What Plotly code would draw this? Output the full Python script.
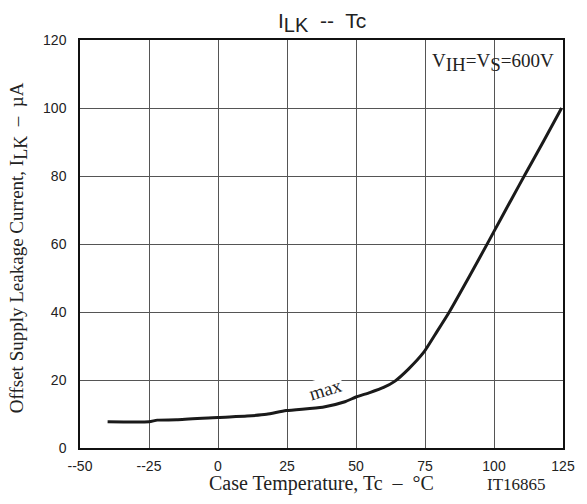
import plotly.graph_objects as go

# Data
temp_c = [-40, -25, -22, -15, 0, 10.5, 17.6, 24.7, 37.9, 46, 50, 55, 60, 64, 69,
          74.5, 79, 83.8, 91.1, 98.2, 102.4, 106.5, 111.3, 118, 124.5]
ilk_max = [7.7, 7.7, 8.2, 8.3, 9.0, 9.4, 9.9, 11.0, 12.0, 13.6, 15.0, 16.3, 17.8, 19.6, 23.2,
           28.1, 33.8, 40.0, 50.5, 61.0, 67.3, 73.4, 80.5, 90.3, 100]

x_ticks = [-50, -25, 0, 25, 50, 75, 100, 125]
x_tick_labels = ["--50", "--25", "0", "25", "50", "75", "100", "125"]
y_ticks = [0, 20, 40, 60, 80, 100, 120]

SANS = "Liberation Sans, Arial, sans-serif"
SERIF = "Liberation Serif, Times New Roman, serif"
TXT = "#222222"

fig = go.Figure()
fig.add_trace(go.Scatter(
    x=temp_c, y=ilk_max, mode="lines",
    line=dict(color="#1a1a1a", width=3, shape="spline", smoothing=0.6),
    showlegend=False, hoverinfo="skip"))

axis_common = dict(showgrid=True, gridcolor="#555555", gridwidth=1,
                   zeroline=False, showline=True, linecolor="#111111", linewidth=1.5,
                   mirror=True, ticks="outside", tickcolor="rgba(0,0,0,0)",
                   tickfont=dict(family=SANS, size=14, color=TXT))

fig.update_xaxes(range=[-50, 125], tickvals=x_ticks, ticktext=x_tick_labels,
                 ticklen=4, **axis_common)
fig.update_yaxes(range=[0, 120], tickvals=y_ticks, ticklen=9, **axis_common)


def sub(s, size):
    return "<sub><span style='font-size:%dpx'>%s</span></sub>" % (size, s)


annotations = [
    dict(text="I" + sub("LK", 20) + "  --  Tc", xref="paper", yref="paper", x=0.5, y=1.0,
         yshift=2, xanchor="center", yanchor="bottom", showarrow=False,
         font=dict(family=SANS, size=21, color=TXT)),
    dict(text="I" + sub("LK", 20) + "  --  Tc", xref="paper", yref="paper", x=0.5, y=-0.12,
         xanchor="center", yanchor="top", showarrow=False,
         font=dict(family=SANS, size=21, color=TXT)),
    dict(text="Case Temperature, Tc  \u2013  \u00b0C", xref="paper", yref="paper",
         x=0.5, y=-0.088, xanchor="center", yanchor="middle", showarrow=False,
         font=dict(family=SERIF, size=20, color=TXT)),
    dict(text="IT16865", xref="paper", yref="paper", x=0.904, y=-0.09,
         xanchor="center", yanchor="middle", showarrow=False,
         font=dict(family=SERIF, size=17, color=TXT)),
    dict(text="Offset Supply Leakage Current, I" + sub("LK", 18) + "  \u2013  \u00b5A",
         xref="paper", yref="paper", x=-0.128, y=0.49, textangle=-90,
         xanchor="center", yanchor="middle", showarrow=False,
         font=dict(family=SERIF, size=19, color=TXT)),
    dict(text="V" + sub("IH", 19) + "=V" + sub("S", 19) + "=600V", xref="paper", yref="paper",
         x=0.986, y=0.944, xanchor="right", yanchor="middle", showarrow=False,
         font=dict(family=SERIF, size=19, color=TXT)),
    dict(text="max", x=38.9, y=17.1, textangle=-17, showarrow=False,
         xanchor="center", yanchor="middle", bgcolor="white", borderpad=1,
         font=dict(family=SERIF, size=19, color=TXT)),
]

fig.update_layout(
    width=587, height=504,
    margin=dict(l=80, r=15, t=40, b=56),
    paper_bgcolor="white", plot_bgcolor="white",
    annotations=annotations,
    showlegend=False,
)

fig.write_html("out.html")
